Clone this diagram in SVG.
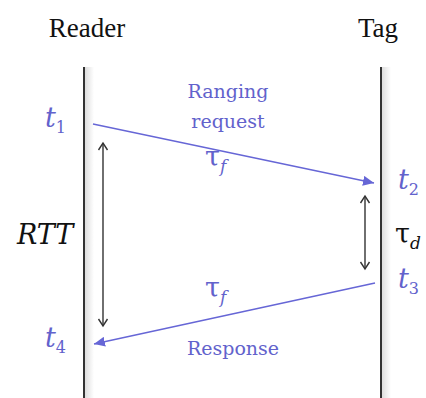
<svg xmlns="http://www.w3.org/2000/svg" width="426" height="398" viewBox="0 0 426 398">
<style>
.head{font-family:"Liberation Serif","Times New Roman",serif;font-size:27px;fill:#111}
.lbl{font-family:"DejaVu Serif","Liberation Serif",serif;font-size:19px;fill:#6262cc;text-anchor:middle}
.mt{font-family:"DejaVu Serif","Liberation Serif",serif;font-size:27px;font-style:italic;fill:#6262cc}
.mk{font-family:"DejaVu Serif","Liberation Serif",serif;font-size:27px;fill:#111}
.mb{font-family:"DejaVu Serif","Liberation Serif",serif;font-size:27px;fill:#6262cc}
.sub{font-size:16px;font-style:normal}
.subi{font-size:17px;font-style:italic}
.life{stroke:#333;stroke-width:2}
.msg{stroke:#6666d6;stroke-width:1.4;fill:none}
.meas{stroke:#333;stroke-width:1.4;fill:none}
</style>
<defs>
<linearGradient id="shade" x1="0" y1="0" x2="1" y2="0">
<stop offset="0" stop-color="#000" stop-opacity="0.13"/>
<stop offset="1" stop-color="#000" stop-opacity="0"/>
</linearGradient>
<marker id="tri" markerUnits="userSpaceOnUse" markerWidth="12" markerHeight="10" refX="11" refY="5" orient="auto">
<path d="M0,0 L11,5 L0,10 Z" fill="#6666d6"/>
</marker>
<marker id="chev" markerUnits="userSpaceOnUse" markerWidth="12" markerHeight="12" refX="8" refY="6" orient="auto-start-reverse">
<path d="M1,1.5 L8,6 L1,10.5" fill="none" stroke="#333" stroke-width="1.4"/>
</marker>
</defs>
<rect width="426" height="398" fill="#fff"/>
<g id="reader">
<rect x="85" y="67" width="9" height="331" fill="url(#shade)"/>
<line class="life" x1="84" y1="67" x2="84" y2="398"/>
<text class="head" x="87" y="37" text-anchor="middle">Reader</text>
</g>
<g id="tag">
<rect x="382" y="67" width="9" height="331" fill="url(#shade)"/>
<line class="life" x1="381" y1="67" x2="381" y2="398"/>
<text class="head" x="378" y="37" text-anchor="middle">Tag</text>
</g>
<g id="connectors">
<line class="msg" x1="93" y1="124" x2="374" y2="183" marker-end="url(#tri)"/>
<line class="msg" x1="375" y1="283" x2="94" y2="344" marker-end="url(#tri)"/>
<line class="meas" x1="103" y1="143" x2="103" y2="326" marker-start="url(#chev)" marker-end="url(#chev)"/>
<line class="meas" x1="365" y1="196" x2="365" y2="269" marker-start="url(#chev)" marker-end="url(#chev)"/>
</g>
<g id="labels">
<text class="lbl" x="228" y="98">Ranging</text>
<text class="lbl" x="228" y="128">request</text>
<text class="lbl" x="233" y="355">Response</text>
<text class="mb" x="205" y="166">τ<tspan class="subi" dy="6">f</tspan></text>
<text class="mb" x="205" y="297">τ<tspan class="subi" dy="6">f</tspan></text>
<text class="mk" x="395" y="243">τ<tspan class="subi" dy="6">d</tspan></text>
<text class="mt" x="45" y="127">t<tspan class="sub" dy="6">1</tspan></text>
<text class="mt" x="398" y="189">t<tspan class="sub" dy="6">2</tspan></text>
<text class="mt" x="398" y="288">t<tspan class="sub" dy="6">3</tspan></text>
<text class="mt" x="45" y="347">t<tspan class="sub" dy="6">4</tspan></text>
<text class="mk" x="17" y="244" font-style="italic">RTT</text>
</g>
</svg>
